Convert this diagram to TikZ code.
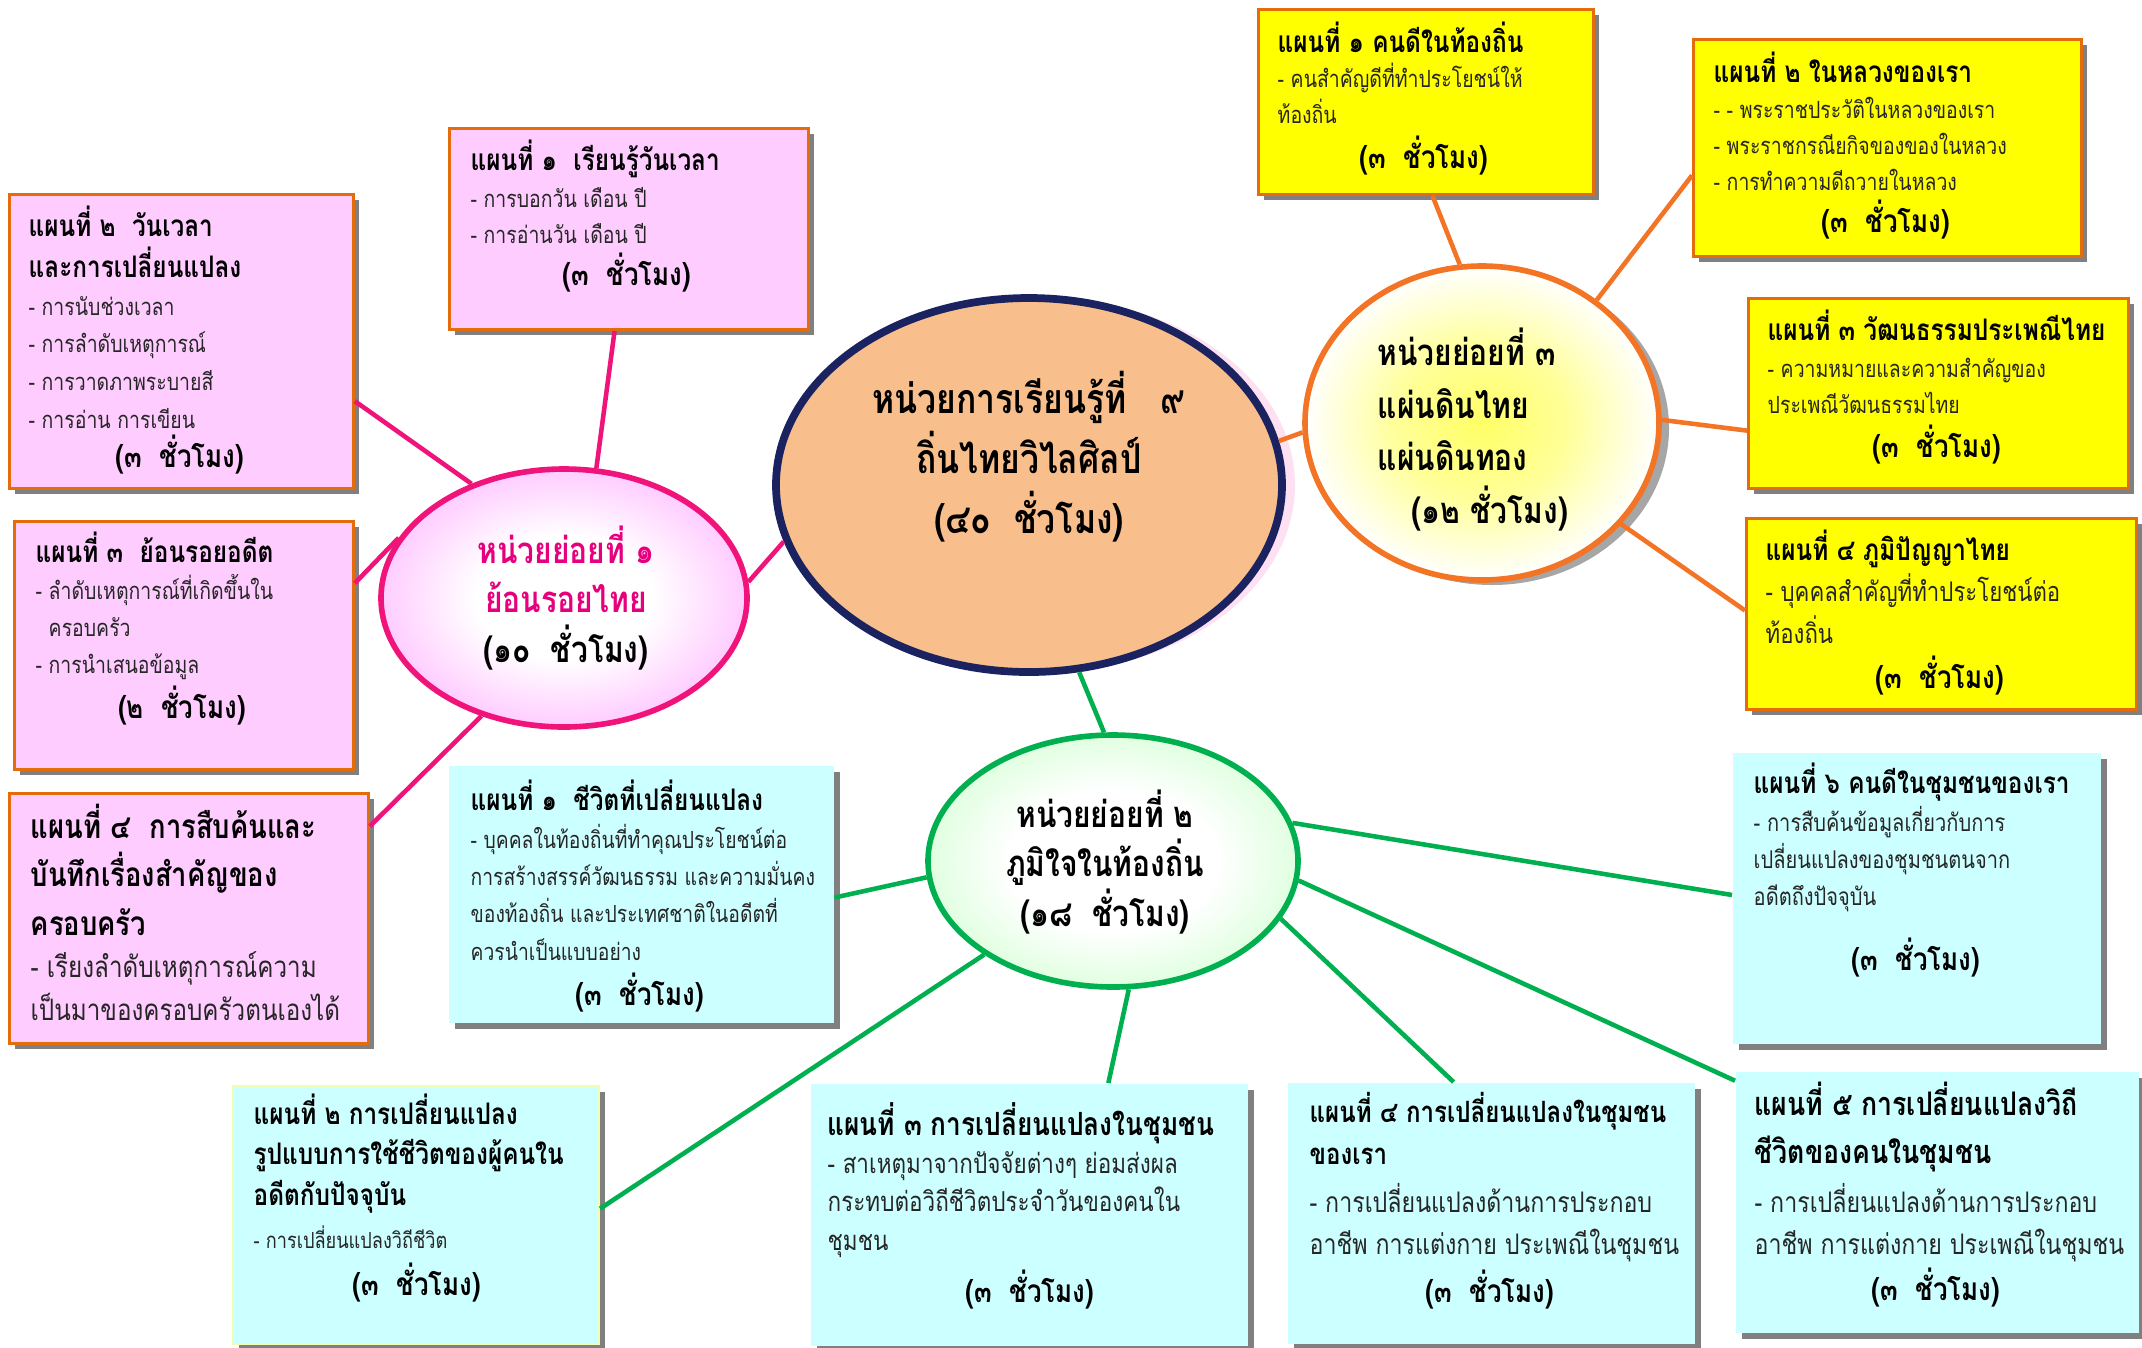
\documentclass[tikz,border=0pt]{standalone}
\usepackage{fontspec}
\setmainfont[Script=Thai, FakeStretch=0.82]{Loma}
\usepackage{xcolor}
\usepackage{tikz}
\usetikzlibrary{shapes, shadows, positioning, calc}
\definecolor{pinkbox}{HTML}{FFCCFF}
\definecolor{yellowbox}{HTML}{FFFF00}
\definecolor{cyanbox}{HTML}{CCFFFF}
\definecolor{boxline}{HTML}{E46C0A}
\definecolor{navy}{HTML}{1A2260}
\definecolor{peach}{HTML}{F8BE8C}
\definecolor{rosy}{HTML}{F0147A}
\definecolor{rosytext}{HTML}{E6007E}
\definecolor{amber}{HTML}{F27424}
\definecolor{leaf}{HTML}{00B050}
\lineskiplimit=-100pt
\pgfdeclareradialshading{rosyglow}{\pgfpointorigin}{color(0bp)=(white); color(12bp)=(white); color(25bp)=(pinkbox); color(50bp)=(pinkbox)}
\pgfdeclareradialshading{sunglow}{\pgfpointorigin}{color(0bp)=(yellow!60); color(12bp)=(yellow!40); color(25bp)=(white); color(50bp)=(white)}
\pgfdeclareradialshading{leafglow}{\pgfpointorigin}{color(0bp)=(white); color(14bp)=(white); color(25bp)=(green!12); color(50bp)=(green!12)}
\tikzset{
    plan/.style={
        rectangle,
        anchor=north west,
        inner sep=0pt,
        drop shadow={shadow xshift=0.06cm, shadow yshift=-0.06cm, fill=black!50, opacity=1},
    },
    pinkplan/.style={plan, fill=pinkbox, draw=boxline, line width=0.8pt},
    yellowplan/.style={plan, fill=yellowbox, draw=boxline, line width=0.8pt},
    cyanplan/.style={plan, fill=cyanbox},
    plantitle/.style={
        anchor=base west,
        align=left,
        inner sep=0pt,
        font=\bfseries\fontsize{8.45}{11.4}\selectfont,
    },
    planbody/.style={
        anchor=base west,
        align=left,
        inner sep=0pt,
        text=black!85,
        font=\fontsize{6.75}{10.4}\selectfont,
    },
    planhours/.style={
        anchor=base,
        inner sep=0pt,
        font=\bfseries\fontsize{9}{11}\selectfont,
    },
    unit/.style={
        ellipse,
        line width=1.6pt,
        inner sep=0pt,
    },
    unittext/.style={
        anchor=base,
        align=center,
        inner sep=0pt,
        font=\bfseries\fontsize{10.4}{14}\selectfont,
    },
    spoke/.style={draw=#1, line width=1.3pt},
}

\begin{document}
\begin{tikzpicture}
    \useasboundingbox (0,0) rectangle (21.42,-13.47);

    % the unit and its three sub-units
    \node[unit, draw=navy, line width=2.2pt, fill=peach, minimum width=5.06cm, minimum height=3.74cm,
          drop shadow={shadow xshift=0.13cm, shadow yshift=0cm, fill=magenta!12, opacity=1}] (ce) at (10.29,-4.85) {};
    \node[unittext, font=\bfseries\fontsize{11.7}{17}\selectfont] (cet) at (10.29,-5.33)
        {หน่วยการเรียนรู้ที่~~~๙\\ถิ่นไทยวิไลศิลป์\\(๔๐~~ชั่วโมง)};

    \node[unit, draw=rosy, shading=rosyglow, minimum width=3.66cm, minimum height=2.58cm] (u1) at (5.64,-5.98) {};
    \node[unittext] (u1t) at (5.66,-6.62)
        {\textcolor{rosytext}{หน่วยย่อยที่ ๑}\\\textcolor{rosytext}{ย้อนรอยไทย}\\(๑๐~~ชั่วโมง)};

    \node[unit, draw=amber, shading=sunglow, minimum width=3.54cm, minimum height=3.14cm,
          drop shadow={shadow xshift=0.1cm, shadow yshift=-0.05cm, fill=black!35, opacity=1}] (u3) at (14.82,-4.23) {};
    \node[unittext, anchor=base west, align=left, font=\bfseries\fontsize{10.4}{14.9}\selectfont] (u3t) at (13.77,-5.23)
        {หน่วยย่อยที่ ๓\\แผ่นดินไทย\\แผ่นดินทอง\\\hspace*{0.34cm}(๑๒ ชั่วโมง)};

    \node[unit, draw=leaf, shading=leafglow, minimum width=3.70cm, minimum height=2.52cm] (u2) at (11.13,-8.61) {};
    \node[unittext] (u2t) at (11.05,-9.26)
        {หน่วยย่อยที่ ๒\\ภูมิใจในท้องถิ่น\\(๑๘~~ชั่วโมง)};

    % plans of sub-unit 1
    \node[pinkplan, minimum width=3.59cm, minimum height=2.01cm] (p1) at (4.48,-1.27) {};
    \node[plantitle] (p1t) at (4.70,-1.70) {แผนที่ ๑~~เรียนรู้วันเวลา};
    \node[planbody, font=\fontsize{6.75}{10}\selectfont] (p1b) at (4.70,-2.43) {- การบอกวัน เดือน ปี\\- การอ่านวัน เดือน ปี};
    \node[planhours] (p1h) at (6.27,-2.85) {(๓~~ชั่วโมง)};

    \node[pinkplan, minimum width=3.44cm, minimum height=2.94cm] (p2) at (0.08,-1.93) {};
    \node[plantitle] (p2t) at (0.28,-2.77) {แผนที่ ๒~~วันเวลา\\และการเปลี่ยนแปลง};
    \node[planbody, font=\fontsize{6.75}{10.7}\selectfont] (p2b) at (0.28,-4.28) {- การนับช่วงเวลา\\- การลำดับเหตุการณ์\\- การวาดภาพระบายสี\\- การอ่าน การเขียน};
    \node[planhours] (p2h) at (1.80,-4.67) {(๓~~ชั่วโมง)};

    \node[pinkplan, minimum width=3.39cm, minimum height=2.48cm] (p3) at (0.13,-5.20) {};
    \node[plantitle] (p3t) at (0.35,-5.62) {แผนที่ ๓~~ย้อนรอยอดีต};
    \node[planbody] (p3b) at (0.35,-6.73) {- ลำดับเหตุการณ์ที่เกิดขึ้นใน\\\phantom{- }ครอบครัว\\- การนำเสนอข้อมูล};
    \node[planhours] (p3h) at (1.82,-7.18) {(๒~~ชั่วโมง)};

    \node[pinkplan, minimum width=3.59cm, minimum height=2.50cm] (p4) at (0.08,-7.92) {};
    \node[plantitle, font=\bfseries\fontsize{9.5}{13.8}\selectfont] (p4t) at (0.30,-9.35) {แผนที่ ๔~~การสืบค้นและ\\บันทึกเรื่องสำคัญของ\\ครอบครัว};
    \node[planbody, font=\fontsize{8.4}{12.2}\selectfont] (p4b) at (0.30,-10.20) {- เรียงลำดับเหตุการณ์ความ\\เป็นมาของครอบครัวตนเองได้};

    % plans of sub-unit 3
    \node[yellowplan, minimum width=3.35cm, minimum height=1.85cm] (y1) at (12.57,-0.08) {};
    \node[plantitle] (y1t) at (12.77,-0.52) {แผนที่ ๑ คนดีในท้องถิ่น};
    \node[planbody, font=\fontsize{6.75}{10}\selectfont] (y1b) at (12.77,-1.23) {- คนสำคัญดีที่ทำประโยชน์ให้\\ท้องถิ่น};
    \node[planhours] (y1h) at (14.24,-1.68) {(๓~~ชั่วโมง)};

    \node[yellowplan, minimum width=3.88cm, minimum height=2.17cm] (y2) at (16.92,-0.38) {};
    \node[plantitle] (y2t) at (17.13,-0.82) {แผนที่ ๒ ในหลวงของเรา};
    \node[planbody, font=\fontsize{6.75}{10.2}\selectfont] (y2b) at (17.13,-1.90) {- - พระราชประวัติในหลวงของเรา\\- พระราชกรณียกิจของของในหลวง\\- การทำความดีถวายในหลวง};
    \node[planhours] (y2h) at (18.86,-2.32) {(๓~~ชั่วโมง)};

    \node[yellowplan, minimum width=3.80cm, minimum height=1.90cm] (y3) at (17.47,-2.97) {};
    \node[plantitle] (y3t) at (17.67,-3.40) {แผนที่ ๓ วัฒนธรรมประเพณีไทย};
    \node[planbody, font=\fontsize{6.75}{10}\selectfont] (y3b) at (17.67,-4.13) {- ความหมายและความสำคัญของ\\ประเพณีวัฒนธรรมไทย};
    \node[planhours] (y3h) at (19.37,-4.57) {(๓~~ชั่วโมง)};

    \node[yellowplan, minimum width=3.90cm, minimum height=1.91cm] (y4) at (17.45,-5.17) {};
    \node[plantitle] (y4t) at (17.65,-5.60) {แผนที่ ๔ ภูมิปัญญาไทย};
    \node[planbody, font=\fontsize{7.7}{11.7}\selectfont] (y4b) at (17.65,-6.43) {- บุคคลสำคัญที่ทำประโยชน์ต่อ\\ท้องถิ่น};
    \node[planhours] (y4h) at (19.40,-6.88) {(๓~~ชั่วโมง)};

    % plans of sub-unit 2
    \node[cyanplan, minimum width=3.85cm, minimum height=2.57cm] (c1) at (4.48,-7.65) {};
    \node[plantitle] (c1t) at (4.70,-8.10) {แผนที่ ๑~~ชีวิตที่เปลี่ยนแปลง};
    \node[planbody, font=\fontsize{6.7}{10.6}\selectfont] (c1b) at (4.70,-9.60) {- บุคคลในท้องถิ่นที่ทำคุณประโยชน์ต่อ\\การสร้างสรรค์วัฒนธรรม และความมั่นคง\\ของท้องถิ่น และประเทศชาติในอดีตที่\\ควรนำเป็นแบบอย่าง};
    \node[planhours] (c1h) at (6.40,-10.05) {(๓~~ชั่วโมง)};

    \node[cyanplan, draw=green!25!yellow!30, line width=0.6pt, minimum width=3.66cm, minimum height=2.58cm] (c2) at (2.32,-10.85) {};
    \node[plantitle] (c2t) at (2.53,-12.05) {แผนที่ ๒ การเปลี่ยนแปลง\\รูปแบบการใช้ชีวิตของผู้คนใน\\อดีตกับปัจจุบัน};
    \node[planbody, font=\fontsize{6.3}{10}\selectfont] (c2b) at (2.53,-12.48) {- การเปลี่ยนแปลงวิถีชีวิต};
    \node[planhours] (c2h) at (4.17,-12.95) {(๓~~ชั่วโมง)};

    \node[cyanplan, minimum width=4.37cm, minimum height=2.62cm] (c3) at (8.10,-10.83) {};
    \node[plantitle, font=\bfseries\fontsize{9.1}{12}\selectfont] (c3t) at (8.27,-11.35) {แผนที่ ๓ การเปลี่ยนแปลงในชุมชน};
    \node[planbody, font=\fontsize{7.8}{10.95}\selectfont] (c3b) at (8.27,-12.50) {- สาเหตุมาจากปัจจัยต่างๆ ย่อมส่งผล\\กระทบต่อวิถีชีวิตประจำวันของคนใน\\ชุมชน};
    \node[planhours] (c3h) at (10.30,-13.02) {(๓~~ชั่วโมง)};

    \node[cyanplan, minimum width=4.07cm, minimum height=2.61cm] (c4) at (12.87,-10.82) {};
    \node[plantitle, font=\bfseries\fontsize{8.35}{11.7}\selectfont] (c4t) at (13.09,-11.64) {แผนที่ ๔ การเปลี่ยนแปลงในชุมชน\\ของเรา};
    \node[planbody, font=\fontsize{8.05}{11.7}\selectfont] (c4b) at (13.09,-12.54) {- การเปลี่ยนแปลงด้านการประกอบ\\อาชีพ การแต่งกาย ประเพณีในชุมชน};
    \node[planhours] (c4h) at (14.90,-13.02) {(๓~~ชั่วโมง)};

    \node[cyanplan, minimum width=4.03cm, minimum height=2.61cm] (c5) at (17.35,-10.71) {};
    \node[plantitle, font=\bfseries\fontsize{9.25}{13.4}\selectfont] (c5t) at (17.54,-11.63) {แผนที่ ๕ การเปลี่ยนแปลงวิถี\\ชีวิตของคนในชุมชน};
    \node[planbody, font=\fontsize{8.05}{11.9}\selectfont] (c5b) at (17.54,-12.54) {- การเปลี่ยนแปลงด้านการประกอบ\\อาชีพ การแต่งกาย ประเพณีในชุมชน};
    \node[planhours] (c5h) at (19.36,-13.00) {(๓~~ชั่วโมง)};

    \node[cyanplan, minimum width=3.68cm, minimum height=2.91cm] (c6) at (17.32,-7.52) {};
    \node[plantitle] (c6t) at (17.53,-7.93) {แผนที่ ๖ คนดีในชุมชนของเรา};
    \node[planbody, font=\fontsize{6.95}{10.4}\selectfont] (c6b) at (17.53,-9.05) {- การสืบค้นข้อมูลเกี่ยวกับการ\\เปลี่ยนแปลงของชุมชนตนจาก\\อดีตถึงปัจจุบัน};
    \node[planhours] (c6h) at (19.16,-9.70) {(๓~~ชั่วโมง)};

    % connectors
    \draw[spoke=rosy] (ce.193) -- (u1.5);
    \draw[spoke=rosy] (u1.76) -- (p1.262);
    \draw[spoke=rosy] (u1.129) -- (p2.341);
    \draw[spoke=rosy] (u1.160) -- (p3.20);
    \draw[spoke=rosy] (u1.235) -- (p4.27);

    \draw[spoke=amber] (ce.10) -- (u3.183);
    \draw[spoke=amber] (u3.98) -- (y1.274);
    \draw[spoke=amber] (u3.47) -- (y2.188);
    \draw[spoke=amber] (u3.1) -- (y3.191);
    \draw[spoke=amber] (u3.324) -- (y4.179);

    \draw[spoke=leaf] (ce.285) -- (u2.94);
    \draw[spoke=leaf] (u2.185) -- (c1.359);
    \draw[spoke=leaf] (u2.216) -- (c2.2);
    \draw[spoke=leaf] (u2.277) -- (c3.59);
    \draw[spoke=leaf] (u2.341) -- (c4.106);
    \draw[spoke=leaf] (u2.354) -- (c5.149);
    \draw[spoke=leaf] (u2.12) -- (c6.179);
\end{tikzpicture}
\end{document}
